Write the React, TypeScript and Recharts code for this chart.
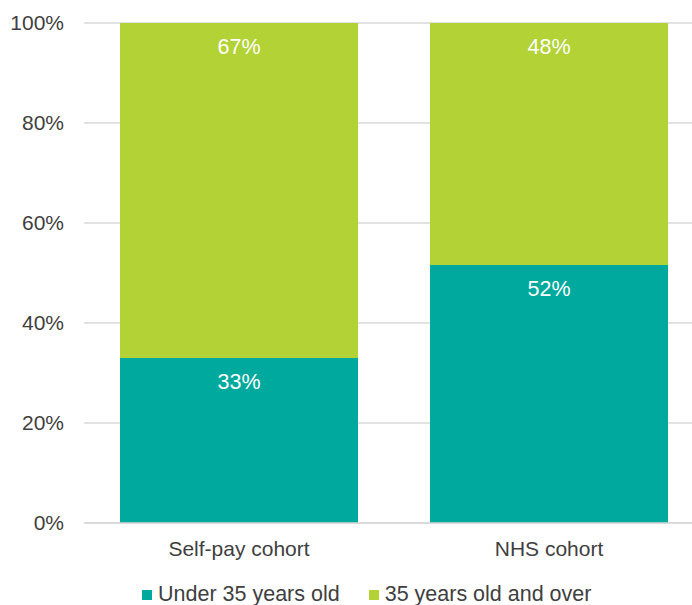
import { BarChart, Bar, XAxis, YAxis, CartesianGrid, Legend, LabelList } from 'recharts';

const cohorts = ['Self-pay cohort', 'NHS cohort'];
const under35 = [33, 51.6];
const over35 = [67, 48.4];
const yTicks = [0, 20, 40, 60, 80, 100];

const seriesNames = ['Under 35 years old', '35 years old and over'];
const colors = ['#00a99d', '#b2d235'];

const data = cohorts.map((c, i) => ({ cohort: c, under: under35[i], over: over35[i] }));

const pct = (v: any) => `${Math.round(Number(v))}%`;

const renderLegend = () => (
  <div style={{ display: 'flex', alignItems: 'center', fontFamily: 'Liberation Sans, Arial, sans-serif', fontSize: 21.5, color: '#404040' }}>
    {seriesNames.map((name, i) => (
      <div key={name} style={{ display: 'flex', alignItems: 'center', marginRight: i === 0 ? 29 : 0 }}>
        <span style={{ width: 10, height: 10, background: colors[i], display: 'inline-block', marginRight: 6 }} />
        <span>{name}</span>
      </div>
    ))}
  </div>
);

export default function App() {
  return (
    <div style={{ position: 'fixed', left: 0, top: 0, width: 692, height: 605, overflow: 'hidden', background: '#fff' }}>
      <BarChart
        width={704}
        height={605}
        data={data}
        margin={{ top: 23, right: 0, left: 0, bottom: 0 }}
        barCategoryGap={36}
        style={{ fontFamily: 'Liberation Sans, Arial, sans-serif' }}
      >
        <CartesianGrid vertical={false} stroke="#d9d9d9" strokeWidth={1.5} />
        <XAxis
          dataKey="cohort"
          height={42}
          tickLine={false}
          axisLine={{ stroke: '#d9d9d9', strokeWidth: 1.5 }}
          tick={{ fill: '#404040', fontSize: 21 }}
          tickMargin={12}
        />
        <YAxis
          width={84}
          domain={[0, 100]}
          ticks={yTicks}
          tickFormatter={(v) => `${v}%`}
          axisLine={false}
          tickLine={false}
          tickSize={0}
          tickMargin={20}
          tick={{ fill: '#404040', fontSize: 21 }}
        />
        <Legend
          verticalAlign="bottom"
          height={40}
          content={renderLegend}
          wrapperStyle={{ left: 142, top: 582, bottom: 'auto', width: 'auto' }}
        />
        <Bar dataKey="under" name={seriesNames[0]} stackId="a" fill={colors[0]} isAnimationActive={false}>
          <LabelList dataKey="under" position="insideTop" offset={16} fill="#fff" fontSize={21.5} formatter={pct} />
        </Bar>
        <Bar dataKey="over" name={seriesNames[1]} stackId="a" fill={colors[1]} isAnimationActive={false}>
          <LabelList dataKey="over" position="insideTop" offset={16} fill="#fff" fontSize={21.5} formatter={pct} />
        </Bar>
      </BarChart>
    </div>
  );
}
